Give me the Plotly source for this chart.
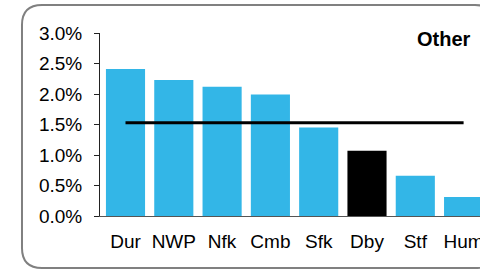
import plotly.graph_objects as go

categories = ["Dur", "NWP", "Nfk", "Cmb", "Sfk", "Dby", "Stf", "Hum"]
values = [0.0241, 0.0223, 0.0212, 0.0199, 0.0145, 0.0107, 0.0066, 0.0031]
highlight = "Dby"
average_value = 0.0153
y_ticks = [0.0, 0.005, 0.01, 0.015, 0.02, 0.025, 0.03]
label_text = "Other"

BLUE = "#33b6e7"
bar_colors = ["#000000" if c == highlight else BLUE for c in categories]

W, H = 480, 270
L, T, B, R = 100, 33, 54, 0
pw, ph = W - L - R, H - T - B

fig = go.Figure()
fig.add_trace(go.Bar(x=categories, y=values, marker=dict(color=bar_colors, line=dict(width=0)),
                     hoverinfo="skip"))
fig.add_trace(go.Scatter(x=categories, y=[average_value] * len(categories), mode="lines",
                         line=dict(color="#000000", width=3), hoverinfo="skip"))

def px2paper(x, y):
    return (x - L) / pw, (H - B - y) / ph

def p(x, y):
    a, b = px2paper(x, y)
    return f"{a:.4f},{b:.4f}"

# rounded frame whose right side lies just beyond the visible area
x0, y0, x1, y1, r = 22, 5, 495, 268, 20
path = (f"M {p(x0 + r, y0)} L {p(x1 - r, y0)} Q {p(x1, y0)} {p(x1, y0 + r)} "
        f"L {p(x1, y1 - r)} Q {p(x1, y1)} {p(x1 - r, y1)} "
        f"L {p(x0 + r, y1)} Q {p(x0, y1)} {p(x0, y1 - r)} "
        f"L {p(x0, y0 + r)} Q {p(x0, y0)} {p(x0 + r, y0)} Z")
fig.add_shape(type="path", path=path, xref="paper", yref="paper",
              line=dict(color="#808080", width=2), layer="below")

ax, ay = px2paper(473, 38.5)
fig.add_annotation(text=f"<b>{label_text}</b>", x=ax, y=ay, xref="paper", yref="paper",
                   xanchor="right", yanchor="middle", showarrow=False,
                   font=dict(size=20, color="#000000", family="Arial, Liberation Sans"))

cat_w = 48.3
start = -0.5 - 1.35 / cat_w
fig.update_layout(
    width=W, height=H, margin=dict(l=L, r=R, t=T, b=B, autoexpand=False),
    paper_bgcolor="white", plot_bgcolor="white", showlegend=False,
    bargap=0.19,
    font=dict(family="Arial, Liberation Sans", size=19, color="#000000"),
)
fig.update_xaxes(type="category", range=[start, start + pw / cat_w], showgrid=False,
                 zeroline=False, showline=True, linecolor="#555555", linewidth=1,
                 ticks="", ticklabelstandoff=8, tickfont=dict(size=19), automargin=False)
fig.update_yaxes(range=[0, 0.03], tickvals=y_ticks, tickformat=".1%", showgrid=False,
                 zeroline=False, showline=True, linecolor="#222222", linewidth=1,
                 ticks="outside", ticklen=5, tickcolor="#222222", ticklabelstandoff=8,
                 tickfont=dict(size=19), automargin=False)

fig.write_html("out.html", config={"displayModeBar": False},
               post_script="document.body.style.margin='0';document.body.style.overflow='hidden';")
